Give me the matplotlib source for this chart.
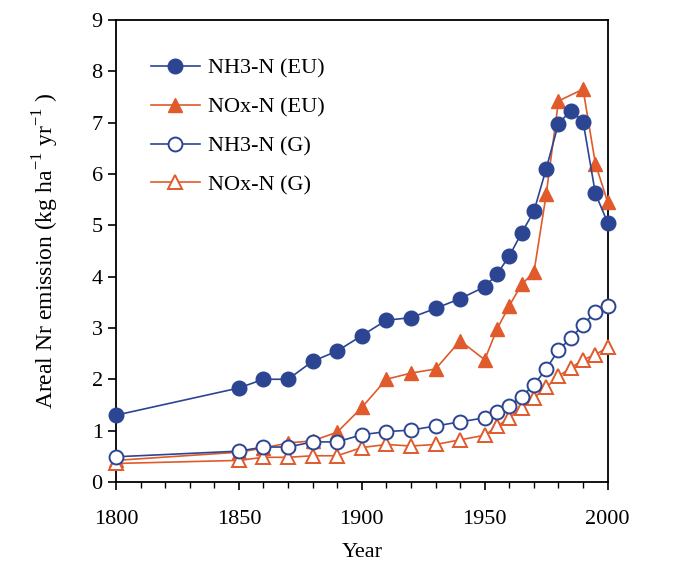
import numpy as np
import matplotlib.pyplot as plt
from matplotlib.ticker import MultipleLocator

plt.rcParams['font.family'] = ['Liberation Serif', 'DejaVu Serif']
plt.rcParams['mathtext.fontset'] = 'custom'
plt.rcParams['mathtext.rm'] = 'Liberation Serif'

years = [1800, 1850, 1860, 1870, 1880, 1890, 1900, 1910, 1920, 1930, 1940,
         1950, 1955, 1960, 1965, 1970, 1975, 1980, 1985, 1990, 1995, 2000]
# NOx-N (EU) has no 1985 point
years_nox_eu = [1800, 1850, 1860, 1870, 1880, 1890, 1900, 1910, 1920, 1930, 1940,
                1950, 1955, 1960, 1965, 1970, 1975, 1980, 1990, 1995, 2000]

nh3_eu = [1.30, 1.83, 2.00, 2.00, 2.35, 2.55, 2.85, 3.15, 3.20, 3.38, 3.57,
          3.80, 4.05, 4.40, 4.85, 5.27, 6.10, 6.98, 7.23, 7.02, 5.62, 5.05]
nox_eu = [0.42, 0.58, 0.66, 0.76, 0.80, 0.97, 1.45, 2.00, 2.12, 2.20, 2.75,
          2.38, 2.98, 3.43, 3.85, 4.08, 5.60, 7.42, 7.65, 6.20, 5.45]
nh3_g = [0.49, 0.60, 0.68, 0.68, 0.78, 0.78, 0.92, 0.98, 1.01, 1.09, 1.17,
         1.25, 1.36, 1.48, 1.66, 1.89, 2.20, 2.57, 2.80, 3.06, 3.31, 3.42]
nox_g = [0.36, 0.42, 0.48, 0.48, 0.51, 0.51, 0.67, 0.73, 0.70, 0.73, 0.82,
         0.91, 1.08, 1.25, 1.44, 1.64, 1.84, 2.06, 2.22, 2.38, 2.48, 2.62]

blue = '#2c4593'
orange = '#e05a2b'

fig = plt.figure(figsize=(6.82, 5.67), dpi=100)
ax = fig.add_axes([0.170, 0.150, 0.721, 0.815])

ax.plot(years, nh3_eu, '-o', color=blue, mfc=blue, mec=blue, ms=10.5, lw=1.2,
        label='NH3-N (EU)', clip_on=False, zorder=4)
ax.plot(years_nox_eu, nox_eu, '-^', color=orange, mfc=orange, mec=orange, ms=10.5,
        lw=1.2, label='NOx-N (EU)', clip_on=False, zorder=3)
ax.plot(years, nh3_g, '-o', color=blue, mfc='white', mec=blue, mew=1.4, ms=10,
        lw=1.2, label='NH3-N (G)', clip_on=False, zorder=6)
ax.plot(years, nox_g, '-^', color=orange, mfc='white', mec=orange, mew=1.4, ms=10,
        lw=1.2, label='NOx-N (G)', clip_on=False, zorder=5)

ax.set_xlim(1800, 2000)
ax.set_ylim(0, 9)
ax.xaxis.set_major_locator(MultipleLocator(50))
ax.xaxis.set_minor_locator(MultipleLocator(10))
ax.yaxis.set_major_locator(MultipleLocator(1))
ax.tick_params(axis='both', which='major', direction='out', length=6, width=1.2,
               labelsize=16)
ax.tick_params(axis='x', which='major', pad=14)
ax.tick_params(axis='x', which='minor', direction='out', length=4, width=1.0)
for s in ax.spines.values():
    s.set_linewidth(1.3)
    s.set_zorder(2)

ax.set_xlabel('Year', fontsize=16, labelpad=10)
ax.set_ylabel(r'Areal Nr emission (kg ha$^{\mathregular{ -1}}$ yr$^{\mathregular{ -1}}$ )',
              fontsize=17, labelpad=22)

ax.legend(loc='upper left', frameon=False, fontsize=16, bbox_to_anchor=(0.03, 0.96),
          handlelength=2.2, handletextpad=0.4, labelspacing=0.82, borderaxespad=0.5)

fig.savefig('out.png', dpi=100)
